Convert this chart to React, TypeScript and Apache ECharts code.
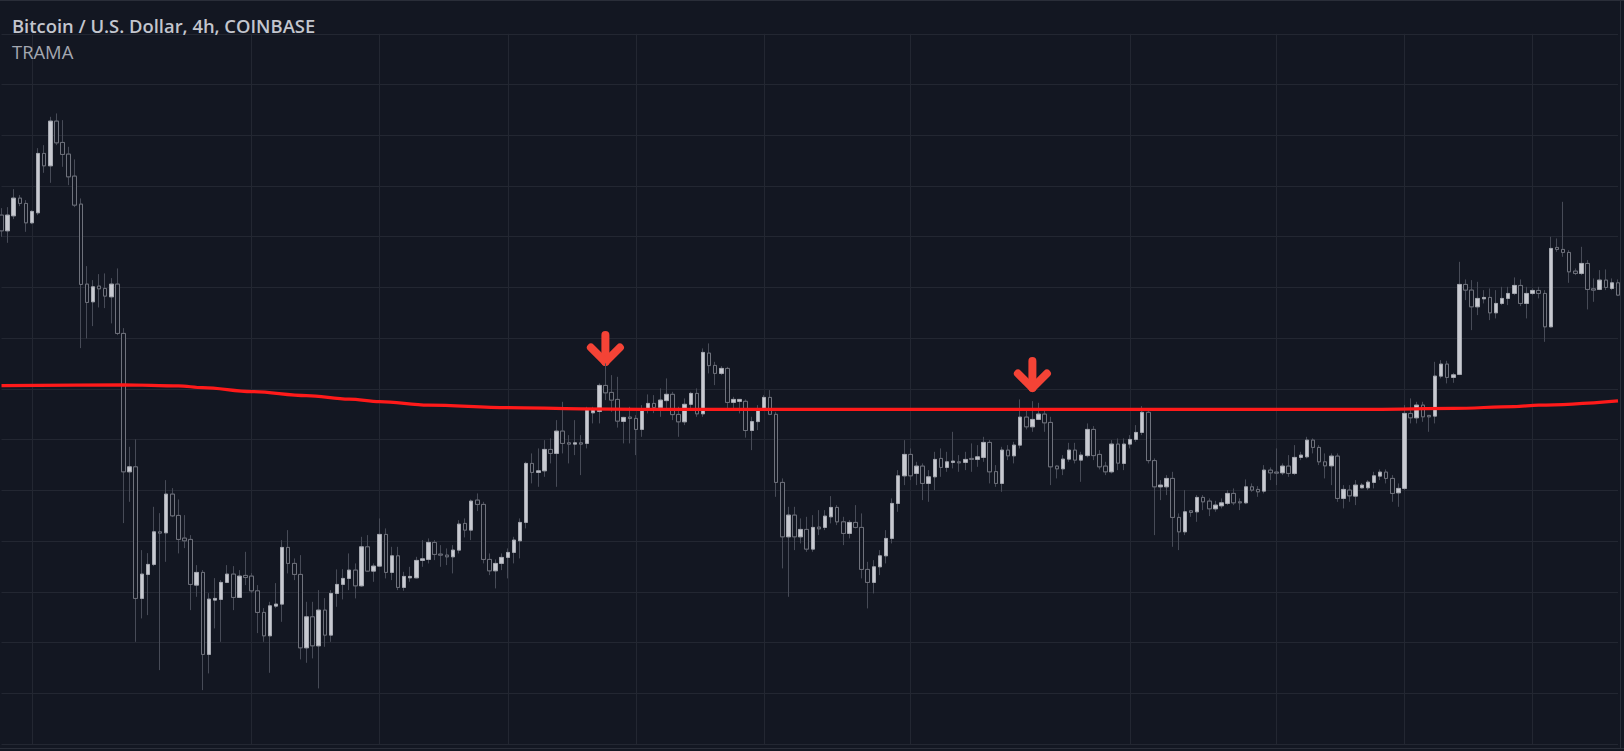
import React, { useEffect, useRef } from "react";
import * as echarts from "echarts";

// ---- data ----
const OPEN = [
  29132, 28975, 29125, 29302, 29249, 29055, 29155, 29749, 29625, 30072,
  29859, 29742, 29522, 29242, 28442, 28265, 28422, 28399, 28315, 28442,
  27949, 26565, 26615, 25299, 25539, 25639, 25965, 25955, 26342, 26129,
  25902, 25889, 25432, 25559, 24739, 25282, 25289, 25459, 25542, 25309,
  25529, 25522, 25375, 25159, 24925, 25222, 25242, 25809, 25649, 25539,
  24805, 25115, 24825, 25182, 24932, 25349, 25439, 25499, 25582, 25425,
  25815, 25572, 25622, 25939, 25559, 25725, 25409, 25505, 25505, 25679,
  25689, 25859, 25742, 25732, 25715, 25782, 26049, 25982, 26282, 26239,
  25689, 25575, 25649, 25709, 25759, 25875, 26059, 26649, 26559, 26575,
  26789, 26749, 26972, 26855, 26842, 26855, 26849, 27155, 27169, 27429,
  27359, 27289, 27069, 27112, 27099, 26989, 27197, 27249, 27209, 27277,
  27340, 27139, 27065, 27240, 27349, 27145, 27752, 27629, 27549, 27599,
  27259, 27269, 27270, 26978, 27067, 27196, 27309, 27140, 26459, 25915,
  26132, 25915, 25989, 25792, 26012, 26009, 26115, 26209, 26065, 25949,
  26059, 26009, 25589, 25459, 25615, 25725, 25899, 26249, 26525, 26739,
  26549, 26622, 26449, 26515, 26699, 26609, 26659, 26665, 26659, 26699,
  26689, 26709, 26859, 26567, 26449, 26782, 26725, 26832, 27112, 27015,
  27089, 27142, 27059, 26622, 26595, 26692, 26782, 26682, 26727, 26989,
  26739, 26622, 26565, 26842, 26649, 26842, 26889, 26959, 27160, 26677,
  26415, 26415, 26499, 26109, 25965, 26175, 26165, 26309, 26272, 26195,
  26225, 26249, 26349, 26265, 26255, 26415, 26389, 26372, 26582, 26562,
  26555, 26622, 26549, 26709, 26715, 26882, 26809, 26665, 26625, 26722,
  26299, 26382, 26322, 26405, 26405, 26459, 26522, 26562, 26499, 26355,
  26399, 27149, 27105, 27232, 27129, 27122, 27522, 27642, 27509, 27539,
  28439, 28382, 28215, 28295, 28309, 28155, 28249, 28299, 28349, 28429,
  28249, 28349, 28379, 28349, 28015, 28809, 28789, 28759, 28572, 28549,
  28649, 28395, 28389, 28482, 28399, 28455,
];
const CLOSE = [
  28975, 29132, 29302, 29249, 29055, 29169, 29749, 29625, 30072, 29855,
  29739, 29515, 29232, 28439, 28259, 28415, 28395, 28322, 28442, 27949,
  26565, 26615, 25299, 25542, 25639, 25965, 25952, 26342, 26125, 25889,
  25875, 25439, 25559, 24739, 25292, 25299, 25459, 25542, 25309, 25522,
  25509, 25375, 25159, 24925, 25225, 25242, 25809, 25649, 25539, 24805,
  25115, 24825, 25182, 24932, 25349, 25439, 25499, 25582, 25425, 25815,
  25572, 25622, 25939, 25559, 25725, 25409, 25519, 25519, 25679, 25695,
  25859, 25739, 25732, 25715, 25782, 26042, 25982, 26272, 26239, 25689,
  25575, 25649, 25709, 25759, 25882, 26059, 26649, 26559, 26575, 26789,
  26749, 26972, 26849, 26842, 26855, 26842, 27189, 27189, 27429, 27355,
  27282, 27072, 27109, 27099, 26989, 27197, 27249, 27209, 27282, 27340,
  27137, 27065, 27240, 27349, 27145, 27759, 27627, 27549, 27599, 27259,
  27289, 27289, 26978, 27067, 27196, 27309, 27140, 26459, 25915, 26132,
  25915, 25989, 25792, 26009, 25995, 26122, 26209, 26065, 25949, 26059,
  26009, 25589, 25459, 25615, 25725, 25899, 26249, 26525, 26739, 26525,
  26622, 26449, 26515, 26689, 26609, 26665, 26672, 26655, 26689, 26689,
  26715, 26859, 26565, 26449, 26782, 26725, 26832, 27112, 27015, 27089,
  27142, 27055, 26615, 26595, 26692, 26782, 26682, 26732, 26989, 26727,
  26615, 26565, 26842, 26652, 26842, 26889, 26959, 27160, 26677, 26415,
  26432, 26499, 26109, 25965, 26165, 26159, 26309, 26265, 26195, 26232,
  26255, 26349, 26255, 26255, 26415, 26382, 26365, 26582, 26555, 26552,
  26622, 26549, 26709, 26732, 26882, 26809, 26665, 26625, 26722, 26299,
  26389, 26325, 26432, 26432, 26462, 26525, 26562, 26499, 26349, 26399,
  27149, 27105, 27232, 27115, 27115, 27522, 27642, 27509, 27535, 28439,
  28382, 28215, 28299, 28309, 28155, 28249, 28299, 28349, 28429, 28249,
  28349, 28379, 28349, 28015, 28799, 28789, 28759, 28565, 28549, 28649,
  28389, 28382, 28482, 28409, 28455, 28332,
];
const LOW = [
  28915, 28855, 29092, 29222, 28965, 29042, 29132, 29555, 29455, 29832,
  29615, 29432, 29212, 27802, 27899, 28022, 28209, 28202, 28049, 27932,
  26052, 26265, 24865, 25099, 25132, 25622, 24582, 25665, 26112, 25749,
  25802, 25182, 25315, 24382, 24549, 24999, 24865, 25452, 25182, 25302,
  25432, 25352, 24952, 24865, 24555, 25202, 25065, 25549, 25482, 24689,
  24655, 24699, 24399, 24815, 24865, 25215, 25289, 25382, 25299, 25415,
  25565, 25465, 25615, 25499, 25482, 25382, 25375, 25465, 25499, 25615,
  25649, 25682, 25615, 25632, 25549, 25749, 25909, 25882, 26172, 25649,
  25532, 25399, 25582, 25499, 25649, 25699, 25999, 26449, 26415, 26515,
  26649, 26415, 26749, 26649, 26732, 26532, 26799, 27049, 27049, 27282,
  27165, 27007, 26849, 26849, 26732, 26915, 27149, 27152, 27115, 27199,
  27082, 26915, 27032, 27202, 27115, 27115, 27549, 27432, 27532, 27182,
  27199, 27149, 26907, 26782, 26982, 27175, 27132, 26315, 25599, 25315,
  25782, 25849, 25765, 25765, 25932, 25982, 26049, 26032, 25832, 25899,
  25999, 25499, 25199, 25349, 25532, 25649, 25849, 26165, 26432, 26482,
  26432, 26282, 26265, 26382, 26515, 26565, 26599, 26565, 26582, 26565,
  26615, 26665, 26449, 26415, 26365, 26682, 26649, 26799, 26989, 26965,
  27082, 26965, 26432, 26499, 26532, 26665, 26649, 26465, 26709, 26682,
  26589, 26532, 26549, 26582, 26582, 26799, 26865, 26932, 26649, 25932,
  26282, 26332, 25815, 25782, 25932, 26115, 26065, 26182, 26122, 26165,
  26199, 26232, 26232, 26182, 26242, 26365, 26315, 26349, 26482, 26432,
  26532, 26515, 26532, 26682, 26699, 26749, 26632, 26499, 26432, 26265,
  26199, 26265, 26232, 26399, 26382, 26399, 26482, 26449, 26265, 26215,
  26382, 27049, 27049, 27065, 26965, 27049, 27499, 27449, 27455, 27532,
  28282, 27982, 28132, 28249, 28082, 28099, 28232, 28232, 28332, 28222,
  28099, 28332, 28299, 27865, 28009, 28765, 28715, 28455, 28532, 28532,
  28189, 28265, 28382, 28382, 28382, 28322,
];
const HIGH = [
  29202, 29212, 29392, 29332, 29282, 29182, 29802, 29832, 30115, 30149,
  30082, 29815, 29689, 29299, 28622, 28482, 28542, 28549, 28502, 28599,
  28002, 26815, 26889, 25782, 25752, 26215, 26152, 26482, 26402, 26289,
  26132, 25932, 25632, 25582, 25352, 25502, 25482, 25632, 25622, 25582,
  25765, 25552, 25432, 25202, 25265, 25452, 25882, 25982, 25699, 25732,
  25265, 25265, 25382, 25302, 25382, 25589, 25592, 25749, 25649, 25915,
  25932, 25649, 26099, 25999, 25815, 25815, 25565, 25615, 25715, 25882,
  25899, 25882, 25832, 25799, 25832, 26082, 26099, 26289, 26349, 26265,
  25749, 25689, 25749, 25799, 25915, 26099, 26665, 26749, 26799, 26882,
  26899, 27082, 27265, 26932, 27082, 26932, 27215, 27215, 27449, 27649,
  27532, 27515, 27115, 27215, 27132, 27232, 27339, 27332, 27399, 27499,
  27365, 27215, 27299, 27365, 27399, 27799, 27849, 27665, 27622, 27615,
  27315, 27292, 27289, 27115, 27232, 27332, 27382, 27165, 26499, 26215,
  26215, 26099, 26115, 26132, 26182, 26182, 26322, 26232, 26115, 26082,
  26232, 26149, 25665, 25682, 25782, 25982, 26299, 26582, 26882, 26799,
  26665, 26649, 26582, 26765, 26799, 26765, 26965, 26732, 26765, 26849,
  26832, 26915, 26882, 26632, 26815, 26832, 26865, 27289, 27182, 27272,
  27255, 27199, 27115, 26632, 26732, 26855, 26855, 26765, 27049, 27022,
  26782, 26665, 26882, 26899, 26899, 26932, 27032, 27222, 27199, 26699,
  26482, 26532, 26565, 26149, 26382, 26182, 26332, 26332, 26299, 26275,
  26299, 26382, 26399, 26299, 26489, 26449, 26422, 26632, 26609, 26799,
  26649, 26732, 26832, 26765, 26915, 26899, 26832, 26749, 26749, 26749,
  26432, 26432, 26482, 26452, 26482, 26565, 26589, 26589, 26532, 26449,
  27232, 27299, 27265, 27265, 27132, 27665, 27682, 27675, 27555, 28665,
  28489, 28482, 28465, 28382, 28399, 28382, 28415, 28415, 28509, 28489,
  28415, 28399, 28415, 28382, 28915, 28899, 29265, 28782, 28599, 28815,
  28682, 28499, 28582, 28589, 28499, 28489,
];

// TRAMA indicator, read at the bars where its slope changes
const TRAMA_BAR = [0, 20, 29, 33, 41, 50, 57, 62, 70, 83, 95, 105, 225, 238, 248, 252, 265];
const TRAMA_VALUE = [27427, 27434, 27424, 27407, 27367, 27327, 27292, 27267, 27232, 27207, 27195, 27190, 27190, 27199, 27217, 27232, 27275];

// bars carrying a vertical time grid line
const TIME_GRID_BARS = [5, 41, 62, 83, 104, 125, 149, 185, 209, 230, 251];

// red down-arrow annotations: bar index and price of the arrow tip
const ARROW_BAR = [99, 169];
const ARROW_PRICE = [27663, 27403];

const TITLE = "Bitcoin / U.S. Dollar, 4h, COINBASE";
const INDICATOR = "TRAMA";

// price scale (hidden), grid every 507.3
const PRICE_MIN = 23843.1;
const PRICE_MAX = 30945.3;
const PRICE_STEP = 507.3;

// ---- styles ----
const BG = "#131722";
const GRID = "#232732";
const UP_FILL = "#c8cad1";
const UP_BORDER = "#a6a9b1";
const DOWN_BORDER = "#6f727c";
const WICK = "#474b57";
const RED = "#ff1a1a";
const ARROW = "#f44336";

const START = Date.UTC(2023, 7, 10, 0, 0, 0);
const CATEGORIES = OPEN.map((_, i) => {
  const d = new Date(START + i * 4 * 3600 * 1000);
  return d.toISOString().slice(0, 16).replace("T", " ");
});

export default function App() {
  const ref = useRef<HTMLDivElement>(null);

  useEffect(() => {
    const el = ref.current;
    if (!el) return;
    const chart = echarts.init(el, null, { renderer: "svg" });

    const candles = OPEN.map((o, i) => [o, CLOSE[i], LOW[i], HIGH[i]]);
    const bodies = OPEN.map((o, i) => [o, CLOSE[i], Math.min(o, CLOSE[i]), Math.max(o, CLOSE[i])]);
    const trama = TRAMA_BAR.map((b, i) => [b, TRAMA_VALUE[i]]);

    chart.setOption({
      animation: false,
      backgroundColor: BG,
      grid: { left: 1.5, width: 1616.5, top: 33.8, height: 710.2, containLabel: false },
      xAxis: {
        type: "category",
        data: CATEGORIES,
        boundaryGap: false,
        axisLine: { show: false },
        axisTick: { show: false },
        axisLabel: { show: false },
        splitLine: {
          show: true,
          interval: (index: number) => TIME_GRID_BARS.includes(index),
          lineStyle: { color: GRID, width: 1 },
        },
      },
      yAxis: {
        type: "value",
        min: PRICE_MIN,
        max: PRICE_MAX,
        interval: PRICE_STEP,
        scale: true,
        axisLine: { show: false },
        axisTick: { show: false },
        axisLabel: { show: false },
        splitLine: { show: true, lineStyle: { color: GRID, width: 1 } },
      },
      series: [
        {
          type: "candlestick",
          name: "wicks",
          data: candles,
          barWidth: 4,
          clip: false,
          silent: true,
          itemStyle: {
            color: BG,
            color0: BG,
            borderColor: WICK,
            borderColor0: WICK,
            borderWidth: 1,
          },
        },
        {
          type: "candlestick",
          name: "BTCUSD",
          data: bodies,
          barWidth: 4,
          clip: false,
          silent: true,
          itemStyle: {
            color: UP_FILL,
            color0: BG,
            borderColor: UP_BORDER,
            borderColor0: DOWN_BORDER,
            borderWidth: 1,
          },
        },
        {
          type: "line",
          name: INDICATOR,
          data: trama,
          showSymbol: false,
          smooth: 0.35,
          smoothMonotone: "x",
          clip: false,
          silent: true,
          lineStyle: { color: RED, width: 3.2 },
          z: 5,
        },
      ],
    });

    const arrows = ARROW_BAR.map((bar, i) => {
      const p = chart.convertToPixel({ xAxisIndex: 0, yAxisIndex: 0 }, [bar, ARROW_PRICE[i]]) as number[];
      const st = {
        stroke: ARROW,
        fill: null,
        lineWidth: 8,
        lineCap: "round",
        lineJoin: "round",
      };
      return {
        type: "group",
        x: p[0],
        y: p[1],
        children: [
          { type: "polyline", shape: { points: [[0, -27], [0, 0]] }, style: st },
          { type: "polyline", shape: { points: [[-14.5, -14.5], [0, 0], [14.5, -14.5]] }, style: st },
        ],
        z: 10,
      };
    });

    chart.setOption({
      graphic: [
        { type: "line", shape: { x1: 0, y1: 0.5, x2: 1624, y2: 0.5 }, style: { stroke: "#2a2e39", lineWidth: 1 }, silent: true },
        { type: "line", shape: { x1: 1620.5, y1: 0, x2: 1620.5, y2: 748 }, style: { stroke: "#2a2e39", lineWidth: 1 }, silent: true },
        { type: "line", shape: { x1: 0, y1: 748.5, x2: 1624, y2: 748.5 }, style: { stroke: "#2a2e39", lineWidth: 1 }, silent: true },
        {
          type: "text",
          x: 12,
          y: 25,
          style: {
            text: TITLE,
            fill: "#c3c6ce",
            font: '600 18.4px "Open Sans", sans-serif',
            verticalAlign: "middle",
          },
          silent: true,
        },
        {
          type: "text",
          x: 12,
          y: 51,
          style: {
            text: INDICATOR,
            fill: "#a4a7b0",
            font: '400 18.4px "Open Sans", sans-serif',
            verticalAlign: "middle",
          },
          silent: true,
        },
        ...arrows,
      ],
    });

    return () => chart.dispose();
  }, []);

  return (
    <div
      ref={ref}
      style={{ position: "fixed", left: 0, top: 0, width: 1624, height: 751, background: BG }}
    />
  );
}
